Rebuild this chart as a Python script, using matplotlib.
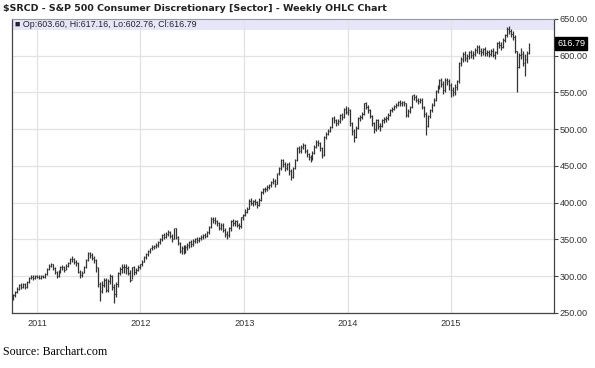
import matplotlib
matplotlib.use('Agg')
import matplotlib.pyplot as plt
import matplotlib.dates as mdates
import matplotlib.transforms as mtransforms
import pandas as pd

# weekly bars (week ending Friday)
first_open = 270

closes_2010 = [274, 278, 283, 288, 286, 289, 285, 292, 298, 299, 297, 300, 299]
highs_2010 = [276, 280, 285, 290, 291, 291, 291, 293, 299, 301, 301, 301, 302]
lows_2010 = [268, 272, 277, 281, 283, 284, 282, 284, 291, 296, 295, 296, 297]

closes_2011 = [298, 300, 299, 303, 310, 314, 316, 311, 306, 300,
               307, 312, 313, 309, 314, 318, 324, 323, 320, 318,
               306, 301, 305, 312, 322, 331, 329, 325, 322, 312,
               290, 280, 288, 295, 281, 293, 300, 285, 276, 290,
               304, 310, 312, 313, 311, 305, 295, 312, 306, 309,
               313, 316]
highs_2011 = [302, 302, 302, 305, 311, 316, 318, 317, 312, 307,
              309, 314, 315, 314, 316, 320, 325, 327, 325, 322,
              319, 308, 307, 314, 323, 333, 333, 331, 327, 323,
              313, 292, 294, 298, 297, 296, 303, 301, 289, 292,
              306, 313, 316, 316, 316, 314, 308, 313, 314, 311,
              315, 317]
lows_2011 = [296, 296, 297, 298, 302, 309, 312, 309, 303, 297,
             299, 305, 309, 306, 308, 313, 317, 320, 317, 314,
             304, 298, 299, 304, 311, 321, 325, 322, 318, 306,
             285, 266, 277, 285, 278, 279, 289, 281, 264, 272,
             286, 301, 305, 304, 303, 301, 292, 296, 302, 303,
             307, 310]

closes_2012 = [320, 326, 330, 334, 338, 340, 341, 342, 346, 350,
               356, 354, 358, 360, 355, 351, 365, 353, 345, 335,
               338, 333, 340, 342, 346, 344, 348, 350, 349, 352,
               353, 356, 355, 360, 367, 378, 377, 375, 372, 366,
               370, 363, 358, 356, 365, 375, 372, 375, 370, 368,
               380, 383]
highs_2012 = [322, 328, 331, 336, 339, 342, 343, 345, 348, 352,
              358, 359, 360, 363, 362, 357, 366, 366, 355, 347,
              341, 342, 342, 345, 348, 349, 350, 352, 353, 354,
              356, 358, 359, 362, 369, 380, 381, 380, 377, 374,
              372, 372, 366, 362, 367, 376, 378, 377, 377, 373,
              381, 385]
lows_2012 = [314, 319, 324, 328, 332, 336, 337, 338, 340, 344,
             348, 351, 352, 355, 352, 347, 350, 351, 342, 331,
             330, 330, 331, 336, 339, 340, 341, 345, 345, 346,
             349, 351, 352, 353, 358, 365, 372, 371, 368, 363,
             363, 360, 354, 351, 354, 362, 369, 368, 367, 364,
             366, 377]

closes_2013 = [388, 392, 403, 400, 402, 401, 397, 404, 415, 418,
               419, 421, 424, 428, 430, 426, 440, 447, 458, 452,
               447, 452, 443, 435, 447, 458, 474, 470, 476, 478,
               471, 466, 462, 460, 468, 476, 483, 481, 474, 465,
               490, 494, 498, 503, 515, 512, 509, 511, 519, 516,
               528, 524]
highs_2013 = [391, 394, 405, 406, 404, 405, 403, 406, 416, 420,
              422, 424, 426, 430, 433, 432, 441, 449, 460, 460,
              455, 454, 455, 446, 449, 460, 476, 477, 478, 481,
              480, 473, 468, 465, 470, 478, 485, 486, 483, 476,
              491, 496, 500, 505, 516, 518, 514, 514, 521, 522,
              529, 531]
lows_2013 = [382, 386, 391, 397, 396, 397, 393, 395, 403, 412,
             414, 416, 418, 421, 425, 422, 425, 438, 445, 449,
             443, 444, 438, 431, 434, 446, 457, 467, 468, 473,
             468, 462, 458, 456, 458, 466, 474, 477, 470, 461,
             464, 487, 492, 496, 502, 509, 505, 506, 509, 513,
             515, 521]

closes_2014 = [526, 508, 497, 490, 502, 515, 517, 521, 535, 530,
               526, 518, 508, 500, 512, 504, 505, 512, 514, 515,
               520, 526, 528, 531, 533, 537, 535, 537, 535, 519,
               525, 530, 546, 544, 540, 538, 540, 530, 521, 505,
               518, 526, 533, 540, 552, 558, 567, 562, 553, 567,
               565, 560]
highs_2014 = [530, 527, 510, 500, 504, 516, 520, 523, 536, 537,
              533, 528, 520, 510, 514, 514, 508, 514, 516, 518,
              522, 528, 530, 533, 536, 539, 540, 539, 539, 536,
              527, 532, 547, 548, 546, 543, 543, 542, 532, 523,
              520, 528, 535, 542, 554, 560, 568, 569, 565, 569,
              570, 568]
lows_2014 = [520, 505, 492, 482, 488, 500, 511, 514, 519, 527,
             522, 515, 504, 495, 498, 500, 498, 503, 508, 510,
             513, 518, 523, 526, 529, 531, 532, 531, 531, 516,
             517, 522, 529, 540, 537, 534, 535, 527, 517, 492,
             503, 515, 524, 531, 538, 549, 555, 557, 548, 551,
             560, 554]

closes_2015 = [553, 551, 558, 565, 590, 595, 603, 597, 600, 605,
               601, 603, 608, 612, 607, 605, 609, 604, 605, 603,
               607, 601, 605, 617, 615, 612, 622, 628, 637, 633,
               630, 626, 607, 585, 601, 603, 590, 595, 603.60, 616.79]
highs_2015 = [563, 558, 561, 567, 591, 598, 605, 606, 602, 607,
              608, 606, 610, 614, 615, 611, 611, 612, 608, 608,
              609, 610, 607, 619, 620, 618, 624, 630, 639, 640,
              636, 634, 628, 607, 604, 610, 606, 603, 606, 617.16]
lows_2015 = [544, 545, 547, 553, 563, 586, 592, 593, 591, 596,
             597, 595, 600, 604, 603, 600, 601, 600, 599, 598,
             599, 598, 596, 603, 611, 608, 610, 619, 626, 630,
             626, 622, 604, 550, 583, 596, 586, 572, 590, 602.76]

closes = closes_2010 + closes_2011 + closes_2012 + closes_2013 + closes_2014 + closes_2015
highs = highs_2010 + highs_2011 + highs_2012 + highs_2013 + highs_2014 + highs_2015
lows = lows_2010 + lows_2011 + lows_2012 + lows_2013 + lows_2014 + lows_2015
opens = [first_open] + closes[:-1]

weeks = pd.date_range('2010-10-08', periods=len(closes), freq='W-FRI')
years = ['2011', '2012', '2013', '2014', '2015']
price_ticks = [250, 300, 350, 400, 450, 500, 550, 600, 650]

bar_color = '#333333'

fig = plt.figure(figsize=(5.95, 3.68), dpi=100)
ax = fig.add_axes([0.0202, 0.1495, 0.9109, 0.799])

x = mdates.date2num(weeks)
half = 2.3
ax.vlines(x, lows, highs, color=bar_color, lw=0.9, zorder=3)
ax.hlines(opens, x - half, x, color=bar_color, lw=0.8, zorder=3)
ax.hlines(closes, x, x + half, color=bar_color, lw=0.8, zorder=3)

# lavender header strip with the last bar's values
ax.axhspan(635, 650, color='#e6e6fa', zorder=0, lw=0)
trans = mtransforms.blended_transform_factory(ax.transAxes, ax.transData)
ax.text(0.006, 642.5, '\u25a0 Op:%.2f, Hi:%.2f, Lo:%.2f, Cl:%.2f' % (opens[-1], highs[-1], lows[-1], closes[-1]),
        transform=trans, va='center', ha='left', fontsize=6.4, family='Liberation Sans', color='#222222')

ax.set_xlim(mdates.date2num(pd.Timestamp('2010-10-05')), mdates.date2num(pd.Timestamp('2015-12-30')))
ax.set_ylim(250, 650)

ax.set_xticks(mdates.date2num(pd.to_datetime([y + '-01-01' for y in years])))
ax.set_xticklabels(years)
ax.yaxis.tick_right()
ax.set_yticks(price_ticks)
ax.set_yticklabels(['%.2f' % p for p in price_ticks])
ax.tick_params(axis='x', length=0, pad=4, labelsize=6.6, labelcolor='#333333')
ax.tick_params(axis='y', length=3, pad=1, labelsize=6.6, labelcolor='#333333', color='#444444')
for lab in ax.get_xticklabels() + ax.get_yticklabels():
    lab.set_family('Liberation Sans')

ax.grid(color='#e2e2e2', lw=0.9)
ax.set_axisbelow(True)
for side in ['left', 'bottom', 'right']:
    ax.spines[side].set_color('#444444')
    ax.spines[side].set_linewidth(0.9)
ax.spines['top'].set_color('#999999')
ax.spines['top'].set_linewidth(0.8)

# last price tag on the axis
ax.text(1.006, closes[-1], '%.2f' % closes[-1], transform=trans, va='center', ha='left',
        fontsize=6.6, family='Liberation Sans', color='white',
        bbox=dict(facecolor='black', edgecolor='black', boxstyle='square,pad=0.2'))

fig.text(0.005, 0.978, '$SRCD - S&P 500 Consumer Discretionary [Sector] - Weekly OHLC Chart',
         fontsize=6.8, weight='bold', va='center', ha='left', color='#222222')
fig.text(0.005, 0.043, 'Source: Barchart.com', fontsize=8.6, family='Liberation Serif',
         va='center', ha='left', color='black')

fig.savefig('out.png', dpi=100)
